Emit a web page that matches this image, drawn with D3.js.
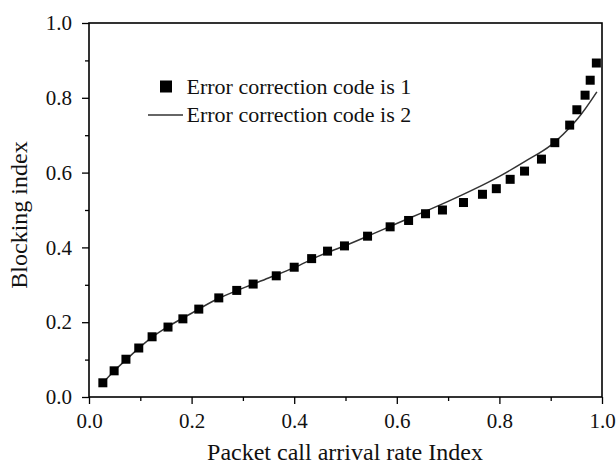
<!DOCTYPE html>
<html>
<head>
<meta charset="utf-8">
<script src="https://cdn.jsdelivr.net/npm/d3@7.9.0/dist/d3.min.js"></script>
<style>
  body { margin: 0; background: #fff; }
  svg { display: block; font-family: "Liberation Serif", "Times New Roman", serif; }
</style>
</head>
<body>
<svg id="chart" width="616" height="465"></svg>
<script>
// series 1: squares (error correction code is 1)
const code1X = [0.027, 0.049, 0.072, 0.097, 0.123, 0.154, 0.183, 0.214, 0.253, 0.288, 0.320,
                0.365, 0.400, 0.434, 0.465, 0.498, 0.543, 0.587, 0.623, 0.656,
                0.689, 0.730, 0.767, 0.794, 0.821, 0.849, 0.882, 0.908, 0.937, 0.951, 0.967, 0.977, 0.989];
const code1Y = [0.038, 0.070, 0.101, 0.131, 0.161, 0.187, 0.209, 0.235, 0.265, 0.285, 0.302,
                0.324, 0.347, 0.370, 0.390, 0.404, 0.430, 0.455, 0.472, 0.490,
                0.500, 0.520, 0.542, 0.557, 0.582, 0.604, 0.636, 0.680, 0.727, 0.768, 0.807, 0.847, 0.893];

// series 2: line (error correction code is 2)
const code2X = [0.027, 0.05, 0.075, 0.1, 0.125, 0.15, 0.2, 0.25, 0.3, 0.35, 0.4, 0.45, 0.5,
                0.55, 0.6, 0.65, 0.7, 0.75, 0.8, 0.85, 0.9, 0.95, 0.99];
const code2Y = [0.038, 0.071, 0.103, 0.134, 0.162, 0.185, 0.224, 0.262, 0.291, 0.318, 0.346, 0.378, 0.405,
                0.434, 0.464, 0.493, 0.523, 0.555, 0.590, 0.630, 0.673, 0.740, 0.816];

const xTicks = [0, 0.2, 0.4, 0.6, 0.8, 1.0];
const yTicks = [0, 0.2, 0.4, 0.6, 0.8, 1.0];
const minorTicks = [0.1, 0.3, 0.5, 0.7, 0.9];

const legendLabels = ["Error correction code is 1", "Error correction code is 2"];
const xTitle = "Packet call arrival rate Index";
const yTitle = "Blocking index";

const width = 616, height = 465;
const margin = { top: 23, right: 14, bottom: 68, left: 89 };
const w = width - margin.left - margin.right;
const h = height - margin.top - margin.bottom;

const svg = d3.select('#chart');
const g = svg.append('g').attr('transform', `translate(${margin.left},${margin.top})`);

const x = d3.scaleLinear().domain([0, 1]).range([0, w]);
const y = d3.scaleLinear().domain([0, 1]).range([h, 0]);

// minor ticks
g.append('g')
    .attr('class', 'minor')
    .attr('transform', `translate(0,${h})`)
    .call(d3.axisBottom(x).tickValues(minorTicks).tickSize(4).tickSizeOuter(0).tickFormat(''));
g.append('g')
    .attr('class', 'minor')
    .call(d3.axisLeft(y).tickValues(minorTicks).tickSize(4).tickSizeOuter(0).tickFormat(''));

// major axes
g.append('g')
    .attr('transform', `translate(0,${h})`)
    .call(d3.axisBottom(x).tickValues(xTicks).tickSize(7).tickSizeOuter(0).tickPadding(9)
        .tickFormat(d3.format('.1f')));
g.append('g')
    .call(d3.axisLeft(y).tickValues(yTicks).tickSize(7).tickSizeOuter(0).tickPadding(10)
        .tickFormat(d3.format('.1f')));

svg.selectAll('.domain').remove();
svg.selectAll('.tick line').attr('stroke', '#000').attr('stroke-width', 1.3);
svg.selectAll('.tick text')
    .attr('fill', '#111')
    .style('font-family', '"Liberation Serif", serif')
    .style('font-size', '21px');

// frame
g.append('rect')
    .attr('x', 0).attr('y', 0).attr('width', w).attr('height', h)
    .attr('fill', 'none').attr('stroke', '#000').attr('stroke-width', 1.6);

// line series
const lineData = code2X.map((d, i) => ({ x: d, y: code2Y[i] }));
const line = d3.line().x(d => x(d.x)).y(d => y(d.y)).curve(d3.curveCatmullRom.alpha(0.5));
g.append('path')
    .datum(lineData)
    .attr('d', line)
    .attr('fill', 'none')
    .attr('stroke', '#333')
    .attr('stroke-width', 1.5);

// square markers
const sq = 9;
const pts = code1X.map((d, i) => ({ x: d, y: code1Y[i] }));
g.selectAll('rect.pt')
    .data(pts)
    .join('rect')
    .attr('class', 'pt')
    .attr('x', d => x(d.x) - sq / 2)
    .attr('y', d => y(d.y) - sq / 2)
    .attr('width', sq)
    .attr('height', sq)
    .attr('fill', '#000');

// legend
const legend = svg.append('g');
legend.append('rect')
    .attr('x', 160).attr('y', 80.5).attr('width', 12).attr('height', 12).attr('fill', '#000');
legend.append('line')
    .attr('x1', 148).attr('x2', 183).attr('y1', 115).attr('y2', 115)
    .attr('stroke', '#333').attr('stroke-width', 1.5);
legend.selectAll('text')
    .data(legendLabels)
    .join('text')
    .attr('x', 186.5)
    .attr('y', (d, i) => 93.5 + i * 28.3)
    .attr('fill', '#111')
    .style('font-size', '22px')
    .text(d => d);

// axis titles
svg.append('text')
    .attr('x', margin.left + w / 2 - 0.5)
    .attr('y', 460)
    .attr('text-anchor', 'middle')
    .attr('fill', '#111')
    .style('font-size', '24px')
    .text(xTitle);

svg.append('text')
    .attr('transform', `translate(27,215) rotate(-90)`)
    .attr('text-anchor', 'middle')
    .attr('fill', '#111')
    .style('font-size', '24px')
    .text(yTitle);
</script>
</body>
</html>
